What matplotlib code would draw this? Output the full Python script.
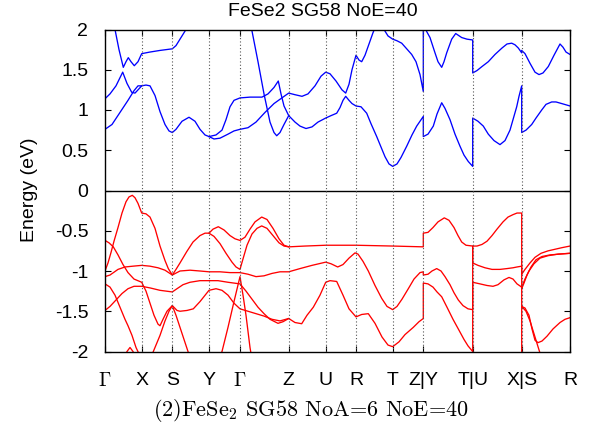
import matplotlib
matplotlib.use("Agg")
import matplotlib.pyplot as plt

plt.rcParams["font.family"] = ["Liberation Sans", "DejaVu Sans"]
plt.rcParams["mathtext.fontset"] = "cm"
plt.rcParams["axes.unicode_minus"] = False

# high-symmetry path (k distance) and labels
kpts = [0, 0.367, 0.673, 1.04, 1.35, 1.837, 2.207, 2.51, 2.877, 3.183, 3.677, 4.167, 4.65]
klabels = [r"$\Gamma$", "X", "S", "Y", r"$\Gamma$", "Z", "U", "R", "T", "Z|Y", "T|U", "X|S", "R"]

# conduction bands (k, E in eV)
cb_a = [(0, 0.76), (0.07, 0.82), (0.15, 0.97), (0.23, 1.12), (0.29, 1.24), (0.33, 1.30), (0.367, 1.30),
        (0.41, 1.31), (0.45, 1.30), (0.50, 1.18), (0.55, 0.98), (0.60, 0.82), (0.64, 0.74), (0.673, 0.72),
        (0.71, 0.76), (0.77, 0.86), (0.84, 0.91), (0.90, 0.86), (0.95, 0.76), (1.00, 0.69), (1.04, 0.67),
        (1.09, 0.64), (1.15, 0.65), (1.23, 0.70), (1.29, 0.74), (1.35, 0.76),
        (1.43, 0.78), (1.51, 0.85), (1.60, 0.97), (1.69, 1.08), (1.78, 1.16), (1.837, 1.21),
        (1.90, 1.19), (1.97, 1.17), (2.03, 1.20), (2.10, 1.30), (2.16, 1.42), (2.207, 1.47),
        (2.25, 1.45), (2.31, 1.36), (2.37, 1.25), (2.407, 1.21), (2.44, 1.32), (2.47, 1.50), (2.51, 1.68),
        (2.54, 1.62), (2.567, 1.60), (2.60, 1.68), (2.64, 1.82), (2.68, 1.96), (2.71, 2.05), (2.75, 2.10),
        (2.79, 2.00), (2.83, 1.92), (2.877, 1.88),
        (2.92, 1.86), (2.967, 1.83), (3.01, 1.77), (3.067, 1.69), (3.11, 1.60), (3.15, 1.44), (3.183, 1.23),
        (3.183, 2.10), (3.21, 1.99), (3.25, 1.90), (3.30, 1.71), (3.33, 1.60), (3.367, 1.53), (3.39, 1.60),
        (3.417, 1.71), (3.467, 1.88), (3.507, 1.95), (3.567, 1.90), (3.62, 1.88), (3.677, 1.87),
        (3.677, 1.46), (3.72, 1.49), (3.77, 1.54), (3.833, 1.60), (3.90, 1.69), (3.97, 1.77), (4.02, 1.82),
        (4.067, 1.83), (4.10, 1.81), (4.133, 1.77), (4.167, 1.71),
        (4.167, 1.74), (4.20, 1.70), (4.25, 1.58), (4.30, 1.47), (4.34, 1.44), (4.38, 1.46), (4.433, 1.54),
        (4.49, 1.68), (4.55, 1.82), (4.58, 1.78), (4.61, 1.72), (4.65, 1.69)]
cb_b = [(0, 1.14), (0.05, 1.20), (0.11, 1.30), (0.177, 1.47), (0.22, 1.33), (0.267, 1.22), (0.30, 1.21),
        (0.33, 1.25), (0.367, 1.30)]
cb_c = [(1.04, 0.67), (1.11, 0.69), (1.17, 0.75), (1.21, 0.88), (1.25, 1.04), (1.29, 1.12), (1.35, 1.15),
        (1.45, 1.16), (1.57, 1.16), (1.63, 1.20), (1.69, 1.28), (1.733, 1.36), (1.76, 1.20), (1.79, 1.05), (1.837, 0.93),
        (1.90, 0.85), (1.95, 0.80), (2.01, 0.77), (2.07, 0.79), (2.13, 0.85), (2.207, 0.90),
        (2.26, 0.93), (2.317, 0.96), (2.35, 1.03), (2.38, 1.12), (2.407, 1.17), (2.44, 1.12), (2.47, 1.08), (2.51, 1.05),
        (2.56, 1.04), (2.617, 0.96), (2.66, 0.83), (2.717, 0.67), (2.76, 0.54), (2.80, 0.42), (2.84, 0.33), (2.877, 0.30),
        (2.92, 0.33), (2.96, 0.41), (3.017, 0.55), (3.07, 0.69), (3.117, 0.80), (3.183, 0.92),
        (3.183, 0.67), (3.23, 0.70), (3.283, 0.80), (3.32, 0.95), (3.367, 1.09), (3.40, 1.02), (3.45, 0.88),
        (3.50, 0.70), (3.55, 0.55), (3.59, 0.44), (3.633, 0.36), (3.677, 0.30),
        (3.677, 0.90), (3.73, 0.86), (3.783, 0.80), (3.833, 0.70), (3.89, 0.62), (3.95, 0.57), (4.00, 0.62),
        (4.05, 0.75), (4.08, 0.88), (4.117, 1.04), (4.14, 1.17), (4.167, 1.30),
        (4.167, 0.72), (4.21, 0.75), (4.267, 0.82), (4.31, 0.90), (4.367, 1.00), (4.41, 1.07), (4.467, 1.10),
        (4.51, 1.10), (4.567, 1.08), (4.65, 1.05)]
cb_d = [(0.0, 2.6), (0.05, 2.3), (0.10, 2.0), (0.14, 1.75), (0.183, 1.53), (0.21, 1.60), (0.233, 1.65),
        (0.26, 1.60), (0.293, 1.55), (0.33, 1.60), (0.367, 1.70), (0.45, 1.72), (0.55, 1.74), (0.673, 1.76),
        (0.71, 1.80), (0.76, 1.90), (0.81, 2.0), (0.87, 2.2)]
cb_e = [(1.35, 2.6), (1.41, 2.3), (1.467, 2.0), (1.53, 1.6), (1.59, 1.2), (1.65, 0.85), (1.69, 0.72),
        (1.717, 0.68), (1.75, 0.72), (1.79, 0.82), (1.837, 0.93)]

# valence bands
vb1 = [(0, -1.0), (0.03, -0.9), (0.06, -0.77), (0.09, -0.63), (0.13, -0.46), (0.17, -0.28), (0.21, -0.14),
       (0.24, -0.08), (0.273, -0.06), (0.30, -0.09), (0.33, -0.16), (0.367, -0.28),
       (0.41, -0.29), (0.45, -0.33), (0.50, -0.47), (0.55, -0.69), (0.60, -0.87), (0.633, -0.97), (0.673, -1.05),
       (0.71, -0.98), (0.75, -0.90), (0.817, -0.76), (0.88, -0.64), (0.95, -0.56), (1.00, -0.53), (1.04, -0.53),
       (1.08, -0.48), (1.133, -0.45), (1.19, -0.49), (1.25, -0.56), (1.30, -0.60), (1.35, -0.62),
       (1.40, -0.58), (1.45, -0.48), (1.50, -0.39), (1.567, -0.33), (1.62, -0.36), (1.68, -0.47), (1.74, -0.60),
       (1.79, -0.68), (1.837, -0.70), (2.0, -0.69), (2.207, -0.68), (2.51, -0.68), (2.877, -0.69), (3.183, -0.70),
       (3.183, -0.53), (3.23, -0.52), (3.28, -0.46), (3.33, -0.39), (3.393, -0.34), (3.44, -0.37), (3.49, -0.46),
       (3.53, -0.56), (3.567, -0.64), (3.61, -0.68), (3.677, -0.69),
       (3.677, -0.90), (3.73, -0.93), (3.80, -0.96), (3.87, -0.98), (3.95, -0.98), (4.02, -0.97), (4.08, -0.96),
       (4.12, -0.95), (4.167, -0.94),
       (4.167, -1.44), (4.21, -1.50), (4.25, -1.62), (4.29, -1.78), (4.32, -1.90), (4.35, -2.02), (4.38, -2.15)]
vb2 = [(0, -0.62), (0.04, -0.65), (0.083, -0.70), (0.13, -0.80), (0.18, -0.92), (0.23, -1.02), (0.29, -1.10),
       (0.367, -1.14), (0.41, -1.25), (0.45, -1.40), (0.49, -1.55), (0.53, -1.66), (0.55, -1.68), (0.58, -1.60),
       (0.62, -1.50), (0.673, -1.43), (0.71, -1.55), (0.75, -1.70), (0.79, -1.85), (0.83, -2.0), (0.87, -2.15)]
vb3 = [(0, -1.07), (0.05, -1.05), (0.13, -0.98), (0.20, -0.95), (0.28, -0.94), (0.367, -0.93),
       (0.45, -0.94), (0.53, -0.96), (0.60, -0.99), (0.673, -1.05),
       (0.75, -1.0), (0.85, -0.99), (0.95, -1.0), (1.04, -1.01), (1.15, -1.01), (1.25, -1.02), (1.35, -1.02),
       (1.43, -1.04), (1.51, -1.07), (1.59, -1.06), (1.67, -1.03), (1.75, -1.01), (1.837, -1.01),
       (1.95, -0.97), (2.07, -0.93), (2.207, -0.89), (2.26, -0.91), (2.327, -0.95), (2.38, -0.92), (2.44, -0.84),
       (2.50, -0.775), (2.53, -0.79), (2.58, -0.88), (2.633, -1.0), (2.70, -1.18), (2.767, -1.34), (2.82, -1.44),
       (2.877, -1.48), (2.92, -1.44), (2.97, -1.35), (3.033, -1.22), (3.09, -1.10), (3.15, -1.02), (3.183, -1.01),
       (3.183, -1.05), (3.23, -1.04), (3.27, -1.0), (3.317, -0.97), (3.36, -1.0), (3.40, -1.07), (3.45, -1.17),
       (3.49, -1.27), (3.533, -1.36), (3.58, -1.43), (3.63, -1.47), (3.677, -1.48),
       (3.677, -0.69), (3.72, -0.69), (3.77, -0.67), (3.82, -0.63), (3.87, -0.56), (3.92, -0.48), (3.98, -0.39),
       (4.03, -0.33), (4.08, -0.30), (4.12, -0.28), (4.167, -0.28),
       (4.167, -1.04), (4.20, -0.98), (4.25, -0.90), (4.30, -0.83), (4.36, -0.78), (4.43, -0.75), (4.50, -0.73),
       (4.57, -0.71), (4.65, -0.69)]
vb4 = [(0, -1.49), (0.05, -1.44), (0.11, -1.36), (0.17, -1.28), (0.23, -1.22), (0.29, -1.19), (0.367, -1.19),
       (0.45, -1.21), (0.55, -1.24), (0.673, -1.26),
       (0.72, -1.22), (0.78, -1.17), (0.85, -1.14), (0.95, -1.12), (1.04, -1.12), (1.13, -1.12), (1.23, -1.14), (1.35, -1.16),
       (1.41, -1.25), (1.47, -1.35), (1.53, -1.45), (1.59, -1.53), (1.65, -1.60), (1.73, -1.65), (1.78, -1.63), (1.837, -1.59),
       (1.90, -1.64), (1.967, -1.655), (2.02, -1.55), (2.083, -1.45), (2.15, -1.30), (2.207, -1.14), (2.25, -1.12),
       (2.317, -1.13), (2.38, -1.30), (2.44, -1.47), (2.51, -1.57), (2.567, -1.54), (2.633, -1.53), (2.70, -1.65),
       (2.77, -1.82), (2.83, -1.92), (2.877, -1.94), (2.94, -1.88), (3.00, -1.79), (3.083, -1.70), (3.14, -1.63), (3.183, -1.59),
       (3.183, -1.15), (3.23, -1.16), (3.28, -1.20), (3.32, -1.26), (3.367, -1.32), (3.42, -1.45), (3.48, -1.60),
       (3.533, -1.72), (3.59, -1.85), (3.63, -1.93), (3.677, -2.0),
       (3.677, -1.14), (3.75, -1.16), (3.82, -1.18), (3.88, -1.19), (3.93, -1.17), (3.99, -1.11), (4.04, -1.08),
       (4.08, -1.10), (4.12, -1.16), (4.167, -1.20),
       (4.167, -1.22), (4.19, -1.15), (4.22, -1.05), (4.26, -0.95), (4.31, -0.86), (4.37, -0.82), (4.45, -0.80),
       (4.55, -0.79), (4.65, -0.78)]
vb5 = [(0, -1.16), (0.05, -1.20), (0.10, -1.30), (0.15, -1.45), (0.20, -1.60), (0.23, -1.68), (0.27, -1.80),
       (0.31, -1.95), (0.367, -2.1), (0.45, -2.1), (0.50, -1.95), (0.55, -1.80), (0.60, -1.62), (0.64, -1.50), (0.673, -1.43),
       (0.72, -1.49), (0.75, -1.50), (0.82, -1.49), (0.883, -1.47), (0.95, -1.38), (1.04, -1.24),
       (1.11, -1.22), (1.17, -1.24), (1.23, -1.30), (1.29, -1.40), (1.35, -1.47),
       (1.43, -1.50), (1.51, -1.53), (1.59, -1.56), (1.67, -1.60), (1.75, -1.62), (1.837, -1.59)]
vb6 = [(1.10, -2.2), (1.17, -2.0), (1.23, -1.7), (1.29, -1.38), (1.35, -1.07), (1.38, -1.3), (1.41, -1.55),
       (1.45, -1.95), (1.47, -2.1)]
vb7 = [(1.04, -0.53), (1.09, -0.57), (1.15, -0.66), (1.21, -0.78), (1.27, -0.89), (1.31, -0.95), (1.35, -0.98),
       (1.38, -0.85), (1.42, -0.68), (1.47, -0.54), (1.52, -0.47), (1.567, -0.44), (1.62, -0.47), (1.68, -0.56),
       (1.74, -0.65), (1.79, -0.69), (1.837, -0.70)]
vb8 = [(4.167, -1.20), (4.20, -1.10), (4.24, -1.0), (4.29, -0.91), (4.35, -0.84), (4.43, -0.81), (4.53, -0.79), (4.65, -0.78)]
vb9 = [(3.677, -2.3), (4.167, -2.3), (4.167, -1.44), (4.20, -1.46), (4.24, -1.55), (4.27, -1.72), (4.30, -1.86),
       (4.33, -1.89), (4.37, -1.87), (4.42, -1.81), (4.48, -1.72), (4.55, -1.64), (4.60, -1.60), (4.65, -1.58)]
vb10 = [(0.17, -2.15), (0.22, -2.0), (0.25, -1.95), (0.28, -2.0), (0.33, -2.15)]

conduction = [cb_a, cb_b, cb_c, cb_d, cb_e]
valence = [vb1, vb2, vb3, vb4, vb5, vb6, vb7, vb8, vb9, vb10]

W, H = 592, 438
fig = plt.figure(figsize=(W / 100, H / 100), dpi=100)
ax = fig.add_axes([105 / W, 1 - 351.5 / H, 465 / W, 322 / H])

for band in conduction:
    ks, es = zip(*band)
    ax.plot(ks, es, color="#0000ff", lw=0.95)
for band in valence:
    ks, es = zip(*band)
    ax.plot(ks, es, color="#ff0000", lw=0.95)

ax.axhline(0, color="black", lw=1.0)
for k in kpts[1:-1]:
    ax.axvline(k, color="#555555", lw=0.8, ls=(0, (1, 2)))

ax.set_xlim(kpts[0], kpts[-1])
ax.set_ylim(-2, 2)
ax.set_xticks(kpts)
ax.set_xticklabels(klabels)
ax.set_yticks([2, 1.5, 1, 0.5, 0, -0.5, -1, -1.5, -2])
ax.set_yticklabels(["2", "1.5", "1", "0.5", "0", "-0.5", "-1", "-1.5", "-2"])
ax.tick_params(axis="both", direction="in", length=4, width=0.8, labelsize=14, top=True, right=True)
ax.tick_params(axis="x", pad=15)
ax.tick_params(axis="y", pad=12)
for s in ax.spines.values():
    s.set_linewidth(1.0)

fig.text(323 / W, 1 - 12 / H, "FeSe2 SG58 NoE=40", ha="center", va="center", fontsize=14)
fig.text(30 / W, 1 - 190 / H, "Energy (eV)", ha="center", va="center", rotation=90, fontsize=14)
fig.text(311 / W, 1 - 411 / H, r"(2)FeSe$_2$ SG58 NoA=6 NoE=40", ha="center", va="center",
         fontsize=16, family="cmr10")

fig.savefig("out.png", dpi=100)
